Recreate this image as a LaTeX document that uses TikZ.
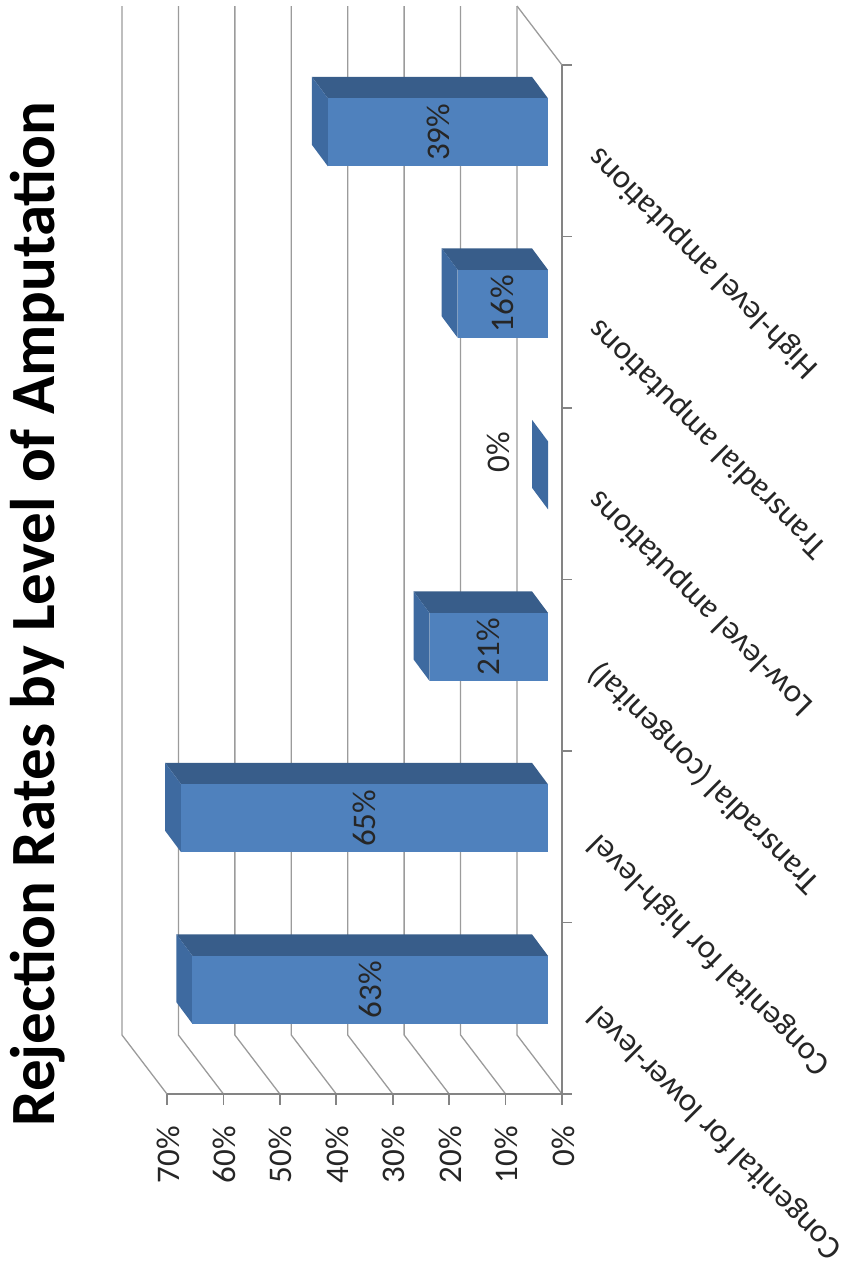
\documentclass[tikz,border=0pt]{standalone}
\usepackage{fontspec}
\setmainfont{Carlito}
\usepackage{tikz}
\usetikzlibrary{positioning}

\definecolor{barfront}{RGB}{79,129,189}
\definecolor{bartop}{RGB}{56,93,138}
\definecolor{barside}{RGB}{62,106,160}
\definecolor{gridgray}{RGB}{155,155,155}

\begin{document}
\begin{tikzpicture}[
            x=1pt, y=-1pt,
            gridline/.style={draw=gridgray, line width=1.3pt},
            axisline/.style={draw=gridgray!85!black, line width=1.6pt},
            valtick/.style={font=\fontsize{33}{36}\selectfont, inner sep=0pt, rotate=90, anchor=east, text=black!85},
            catlabel/.style={font=\fontsize{33}{36}\selectfont, inner sep=0pt, rotate=135, anchor=east, text=black!85},
            barlabel/.style={font=\fontsize{33}{36}\selectfont, inner sep=0pt, rotate=90, text=black!85},
            charttitle/.style={font=\bfseries\fontsize{63}{70}\selectfont, inner sep=0pt, rotate=90, anchor=base}
        ]
            \useasboundingbox (0,0) rectangle (858,1272);

            % Tiêu đề
            \node [charttitle] (title) at (54,614) {Rejection Rates by Level of Amputation};

            % Lưới: tường sau + sàn
            \foreach \v in {0,10,...,70}
                \draw [gridline] ({517-5.643*\v},6) -- ({517-5.643*\v},1035) -- ({562-5.643*\v},1094);
            \draw [gridline] (517,6) -- (562,65);

            % Trục
            \draw [axisline] (562,65) -- (562,1094) -- (167,1094);
            \draw [axisline] (562,1094) -- (572,1094);
            \foreach \k in {0,...,6}
                \draw [axisline] (562,{1094-171.5*\k}) -- (572,{1094-171.5*\k});
            \foreach \v in {0,10,...,70} {
                \draw [axisline] ({167+5.643*(70-\v)},1094) -- ({167+5.643*(70-\v)},1105);
                \node [valtick] (p\v) at ({168+5.643*(70-\v)},1126) {\v\%};
            }

            % Nhãn danh mục
            \foreach \i/\txt in {0/Congenital for lower-level, 1/Congenital for high-level,
                    2/Transradial (congenital), 3/Low-level amputations,
                    4/Transradial amputations, 5/High-level amputations}
                \node [catlabel] (cat\i) at (594,{1094-171.5*(\i+0.5)+2}) {\txt};

            % Các thanh
            \foreach \i/\v in {0/63, 1/65, 2/21, 4/16, 5/39} {
                \pgfmathsetmacro{\T}{1094-171.5*(\i+0.5)-52.4}
                \pgfmathsetmacro{\B}{\T+68}
                \pgfmathsetmacro{\L}{548-5.643*\v}
                \fill [bartop] (\L,\T) -- (548,\T) -- ++(-16,-21.5) -- ({\L-16},{\T-21.5}) -- cycle;
                \fill [barside] (\L,\T) -- ++(-16,-21.5) -- ({\L-16},{\B-21.5}) -- (\L,\B) -- cycle;
                \fill [barfront] (\L,\T) rectangle (548,\B);
                \node [barlabel] (val\i) at ({(\L+548)/2},{(\T+\B)/2}) {\v\%};
            }
            \fill [barside] (548,441.3) -- (532,419.8) -- (532,487.8) -- (548,509.3) -- cycle;
            \node [barlabel] (val3) at (498,452) {0\%};
        \end{tikzpicture}
\end{document}
